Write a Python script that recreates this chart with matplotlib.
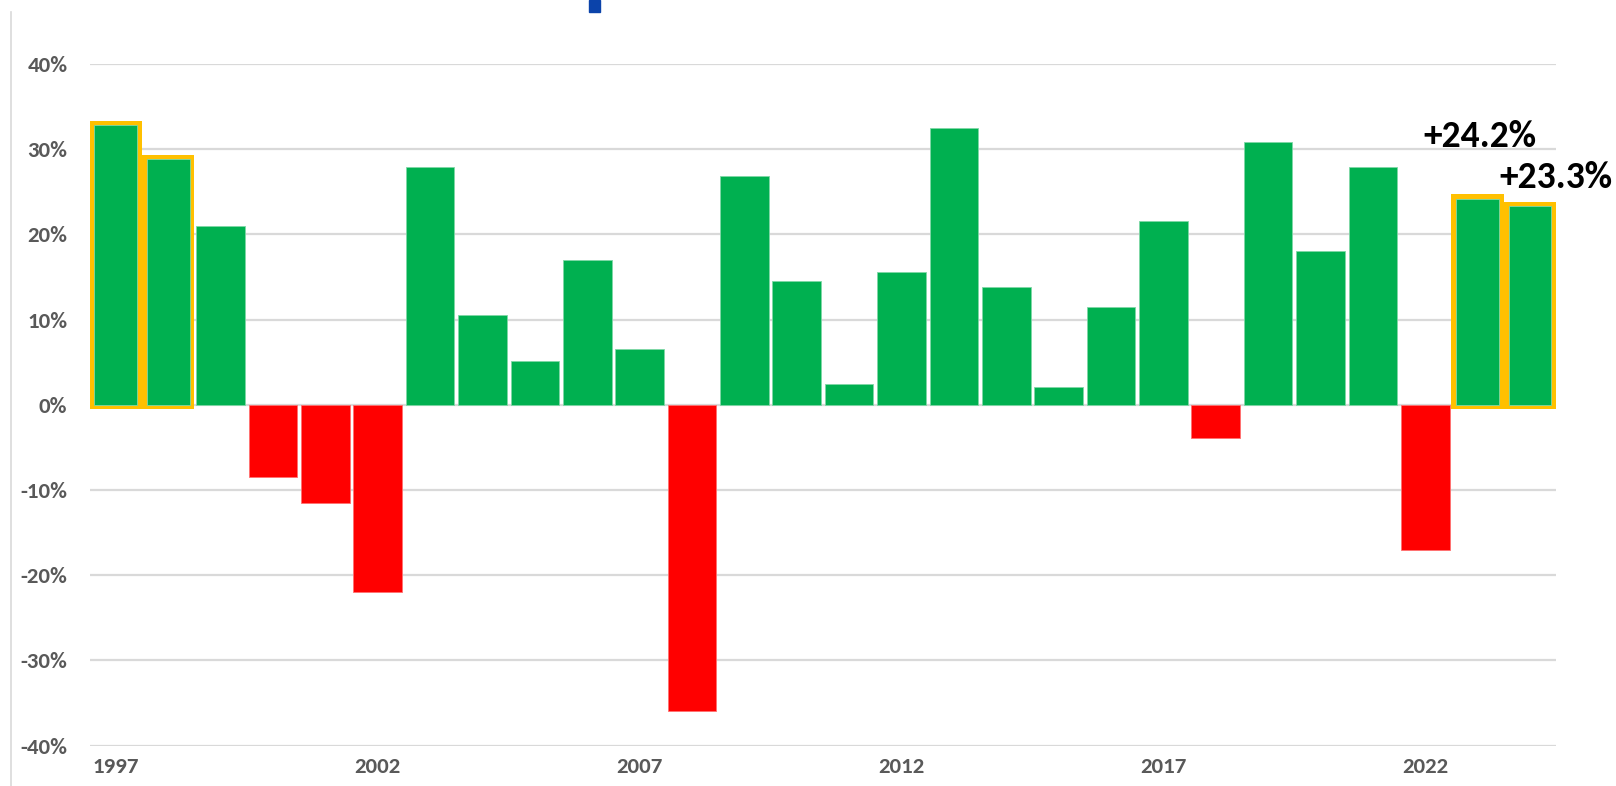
import numpy as np
import matplotlib
matplotlib.use("Agg")
import matplotlib.pyplot as plt
from matplotlib import font_manager
from matplotlib.patches import Rectangle
from matplotlib.lines import Line2D

# yearly returns, %
years = list(range(1997, 2025))
returns = [32.8, 28.8, 21.0, -8.5, -11.5, -22.0, 27.9, 10.5, 5.1, 17.0,
           6.5, -35.9, 26.9, 14.5, 2.4, 15.6, 32.5, 13.8, 2.1, 11.5,
           21.6, -3.9, 30.9, 18.0, 27.9, -17.0, 24.2, 23.3]
highlight_years = [1997, 1998, 2023, 2024]
label_years = [2023, 2024]
label_texts = ["+24.2%", "+23.3%"]
tick_years = [1997, 2002, 2007, 2012, 2017, 2022]
ytick_vals = [-40, -30, -20, -10, 0, 10, 20, 30, 40]

# Calibri-like font if one is installed
names = {f.name for f in font_manager.fontManager.ttflist}
fams = [f for f in ['Carlito', 'Liberation Sans Narrow', 'Archivo Narrow'] if f in names]
plt.rcParams['font.family'] = fams + ['DejaVu Sans']

GREEN = '#00B050'
RED = '#FF0000'
ORANGE = '#FFC000'
GRID = '#D9D9D9'

fig = plt.figure(figsize=(16.16, 7.86), dpi=100)
ax = fig.add_axes([0.0555, 0.0513, 0.9075, 0.8673])

colors = [GREEN if r >= 0 else RED for r in returns]
edges = ['#7fd8a6' if r >= 0 else '#ff7070' for r in returns]
hl = [y in highlight_years for y in years]

# orange boxes behind the highlighted bars
for y, r, h in zip(years, returns, hl):
    if h:
        ax.bar(y, r + 1.0, bottom=-0.45, width=1.0, color=ORANGE, zorder=2)

widths = [0.82 if h else 0.93 for h in hl]
ax.bar(years, returns, width=widths, color=colors, edgecolor=edges,
       linewidth=0.6, zorder=3)

# labels over the last two bars
offsets = {2023: 6.0, 2024: 2.1}
xshift = {2023: 0.05, 2024: 0.5}
for y, t in zip(label_years, label_texts):
    r = returns[years.index(y)]
    ax.text(y + xshift[y], r + offsets[y], t, ha='center', va='baseline',
            fontsize=27, fontweight='bold', color='black', zorder=5)

ax.set_xlim(1996.5, 2024.5)
ax.set_ylim(-40, 40)
ax.set_yticks(ytick_vals)
ax.set_yticklabels([f"{v}%" for v in ytick_vals])
ax.set_xticks(tick_years)
ax.set_xticklabels([str(y) for y in tick_years])
ax.grid(axis='y', color=GRID, linewidth=1.6, zorder=0)
ax.set_axisbelow(True)
for s in ax.spines.values():
    s.set_visible(False)
ax.tick_params(axis='y', length=0, pad=16, labelsize=16.5, labelcolor='#595959')
ax.tick_params(axis='x', length=0, pad=8, labelsize=16.5, labelcolor='#595959')
for lab in ax.get_xticklabels() + ax.get_yticklabels():
    lab.set_fontweight('bold')

# thin frame line on the left and the blue marker at the top
fig.add_artist(Line2D([10.5 / 1616, 10.5 / 1616], [0, 1 - 12 / 786],
                      transform=fig.transFigure, color=GRID, linewidth=1.2))
fig.add_artist(Rectangle((589 / 1616, 1 - 12 / 786), 11 / 1616, 12 / 786,
                         transform=fig.transFigure, color='#0B43AA'))

fig.savefig("out.png", dpi=100)
